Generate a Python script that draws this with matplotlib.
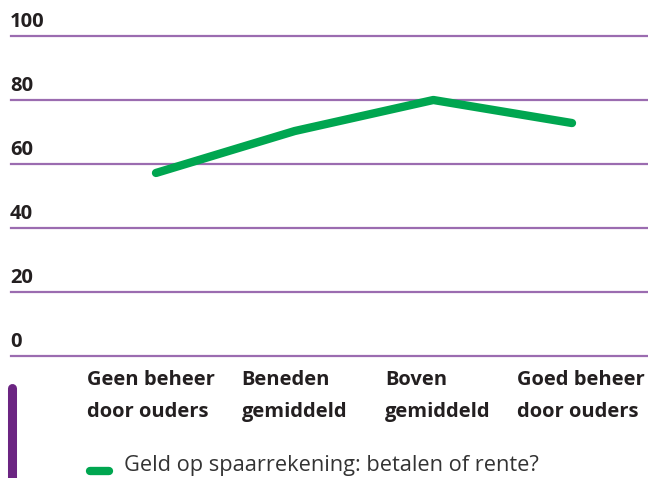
import matplotlib
matplotlib.use('Agg')
import matplotlib.pyplot as plt
from matplotlib import transforms

plt.rcParams['font.family'] = ['Open Sans', 'DejaVu Sans']

categories = ['Geen beheer\ndoor ouders', 'Beneden\ngemiddeld',
              'Boven\ngemiddeld', 'Goed beheer\ndoor ouders']
values = [57.2, 70.3, 80.0, 72.8]
y_ticks = [0, 20, 40, 60, 80, 100]
series_name = 'Geld op spaarrekening: betalen of rente?'

green = '#00a650'
grid_purple = '#9b6cb0'
dark_purple = '#6b2582'
text_col = '#231f20'

W, H = 648, 478
fig = plt.figure(figsize=(W / 100, H / 100), dpi=100)

# axes: x from 11 to 648 px, y=0 at 356 px, y=100 at 36 px (from top)
ax = fig.add_axes([11 / W, (H - 356) / H, (W - 11) / W, 320 / H])
ax.set_ylim(0, 100)
x0, x3 = 156, 572
unit = (x3 - x0) / 3
ax.set_xlim((11 - x0) / unit, (W - x0) / unit)
for s in ax.spines.values():
    s.set_visible(False)
ax.set_yticks([])

for v in y_ticks:
    ax.axhline(v, color=grid_purple, lw=1.6, clip_on=False, zorder=1)
    off = transforms.offset_copy(ax.get_yaxis_transform(), fig=fig, x=-1, y=4, units='dots')
    ax.text(0, v, str(v), transform=off, ha='left', va='bottom',
            fontsize=14.5, fontweight='bold', color=text_col)

ax.plot(range(len(values)), values, color=green, lw=6,
        solid_capstyle='round', solid_joinstyle='round', zorder=3)

# category labels sit on a slightly wider grid than the line points
ax.set_xticks([i * 1.034 - 0.036 for i in range(len(categories))])
ax.set_xticklabels(categories, fontsize=14.5, fontweight='bold', color=text_col,
                   linespacing=1.78, multialignment='left')
ax.tick_params(axis='x', length=0, pad=10)

# legend
fig.add_artist(plt.Line2D([90 / W, 109 / W], [(H - 471) / H] * 2, color=green,
                          lw=6, solid_capstyle='round'))
fig.text(124 / W, (H - 466) / H, series_name, ha='left', va='center',
         fontsize=15.7, color='#333333')

# purple side bar (rounded top, runs off the bottom)
fig.add_artist(plt.Line2D([11.5 / W, 11.5 / W], [-20 / H, (H - 388) / H],
                          color=dark_purple, lw=6.5, solid_capstyle='round'))

fig.savefig('out.png', dpi=100)
